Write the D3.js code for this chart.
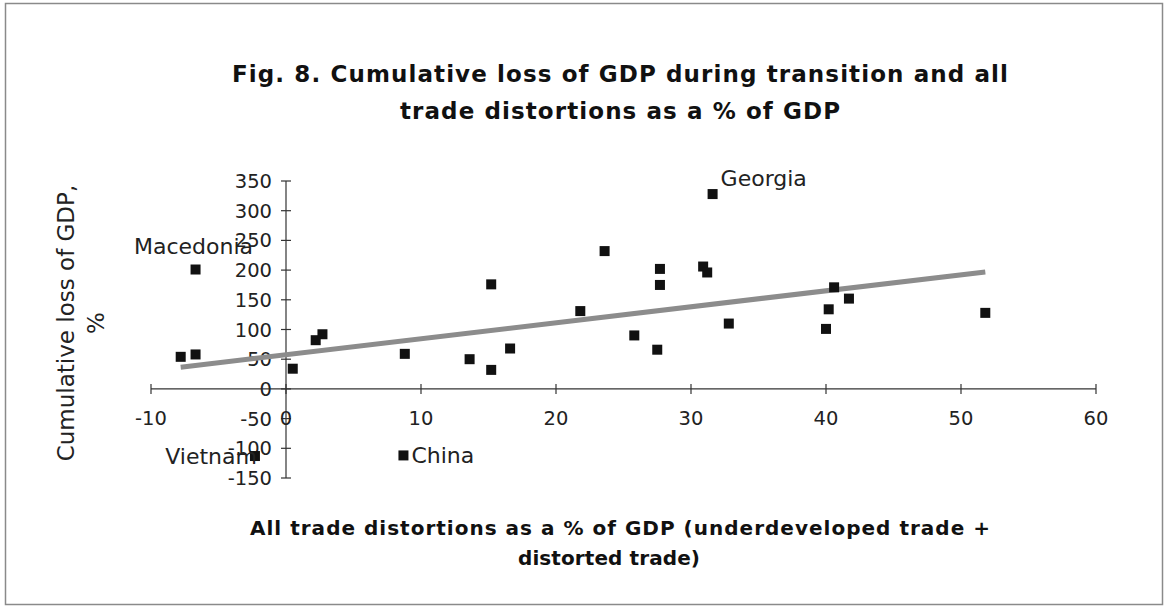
<!DOCTYPE html>
<html>
<head>
<meta charset="utf-8">
<script src="https://cdn.jsdelivr.net/npm/d3@7"></script>
<style>
  body { margin: 0; background: #fff; }
  .tick-label { font-family: "DejaVu Sans", sans-serif; font-size: 19.5px; fill: #222; }
  .point-label { font-family: "DejaVu Sans", sans-serif; font-size: 22px; fill: #222; }
  .chart-title { font-family: "DejaVu Sans", sans-serif; font-size: 23px; font-weight: bold; fill: #111; }
  .axis-title { font-family: "DejaVu Sans", sans-serif; font-size: 20px; font-weight: bold; fill: #111; }
  .y-title { font-family: "DejaVu Sans", sans-serif; font-size: 23px; fill: #222; }
</style>
</head>
<body>
<div class="chart-container"></div>
<script>
// all trade distortions, % of GDP
const tradeDistortion = [-7.8, -6.7, -6.7, -2.3, 0.5, 2.2, 2.7, 8.8, 8.7, 13.6, 15.2, 15.2, 16.6, 21.8,
  23.6, 25.8, 27.5, 27.7, 27.7, 30.9, 31.2, 31.6, 32.8, 40.0, 40.2, 40.6, 41.7, 51.8];
// cumulative loss of GDP, %
const gdpLoss = [54, 58, 201, -113, 34, 82, 92, 59, -112, 50, 176, 32, 68, 131,
  232, 90, 66, 202, 175, 206, 196, 328, 110, 101, 134, 171, 152, 128];
const countries = ["", "", "Macedonia", "Vietnam", "", "", "", "", "China", "", "", "", "", "",
  "", "", "", "", "", "", "", "Georgia", "", "", "", "", "", ""];
// where excel put the data label
const labelSide = {"Macedonia": "above", "Vietnam": "left", "China": "right", "Georgia": "right"};

const xTicks = [-10, 0, 10, 20, 30, 40, 50, 60];
const yTicks = [-150, -100, -50, 0, 50, 100, 150, 200, 250, 300, 350];

const titleLines = ["Fig. 8. Cumulative loss of GDP during transition and all",
  "trade distortions as a % of GDP"];
const xTitleLines = ["All trade distortions  as a % of GDP (underdeveloped trade +",
  "distorted trade)"];
const yTitleLines = ["Cumulative loss of GDP,", "%"];

const width = 1168, height = 607;

const points = tradeDistortion.map((x, i) => ({x: x, y: gdpLoss[i], name: countries[i]}));

const svg = d3.select(".chart-container").append("svg")
    .attr("width", width)
    .attr("height", height);

svg.append("rect")
    .attr("x", 5.5).attr("y", 3.5)
    .attr("width", 1157).attr("height", 601)
    .attr("fill", "#fff")
    .attr("stroke", "#8a8a8a")
    .attr("stroke-width", 1.5);

const x = d3.scaleLinear().domain([-10, 60]).range([151, 1096]);
const y = d3.scaleLinear().domain([-150, 350]).range([478, 181]);

// axes cross at zero, excel style
const axisColor = "#333";
svg.append("line")
    .attr("x1", x(-10)).attr("x2", x(60))
    .attr("y1", y(0)).attr("y2", y(0))
    .attr("stroke", axisColor).attr("stroke-width", 1.2);
svg.append("line")
    .attr("x1", x(0)).attr("x2", x(0))
    .attr("y1", y(-150)).attr("y2", y(350))
    .attr("stroke", axisColor).attr("stroke-width", 1.2);

svg.selectAll(".xtick")
    .data(xTicks)
  .enter().append("line")
    .attr("class", "xtick")
    .attr("x1", (d) => x(d)).attr("x2", (d) => x(d))
    .attr("y1", y(0) - 5).attr("y2", y(0) + 5)
    .attr("stroke", axisColor).attr("stroke-width", 1.2);

svg.selectAll(".ytick")
    .data(yTicks)
  .enter().append("line")
    .attr("class", "ytick")
    .attr("x1", x(0) - 5).attr("x2", x(0) + 5)
    .attr("y1", (d) => y(d)).attr("y2", (d) => y(d))
    .attr("stroke", axisColor).attr("stroke-width", 1.2);

svg.selectAll(".xlab")
    .data(xTicks)
  .enter().append("text")
    .attr("class", "tick-label")
    .attr("x", (d) => x(d))
    .attr("y", y(0) + 36)
    .style("text-anchor", "middle")
    .text((d) => d);

svg.selectAll(".ylab")
    .data(yTicks)
  .enter().append("text")
    .attr("class", "tick-label")
    .attr("x", x(0) - 14)
    .attr("y", (d) => y(d) + 7)
    .style("text-anchor", "end")
    .text((d) => d);

// linear trendline over the data range
const mx = d3.mean(points, (d) => d.x);
const my = d3.mean(points, (d) => d.y);
const slope = d3.sum(points, (d) => (d.x - mx) * (d.y - my)) / d3.sum(points, (d) => (d.x - mx) * (d.x - mx));
const icpt = my - slope * mx;
const xExt = d3.extent(points, (d) => d.x);

svg.append("line")
    .attr("x1", x(xExt[0])).attr("y1", y(icpt + slope * xExt[0]))
    .attr("x2", x(xExt[1])).attr("y2", y(icpt + slope * xExt[1]))
    .attr("stroke", "#8c8c8c")
    .attr("stroke-width", 5);

const size = 10;
svg.selectAll(".dot")
    .data(points)
  .enter().append("rect")
    .attr("class", "dot")
    .attr("x", (d) => x(d.x) - size / 2)
    .attr("y", (d) => y(d.y) - size / 2)
    .attr("width", size)
    .attr("height", size)
    .attr("fill", "#111");

svg.selectAll(".point-label")
    .data(points.filter((d) => d.name))
  .enter().append("text")
    .attr("class", "point-label")
    .attr("x", (d) => {
      const side = labelSide[d.name];
      if (side === "left") return x(d.x) + 2;
      if (side === "right") return x(d.x) + 8;
      return x(d.x) - 2;
    })
    .attr("y", (d) => {
      const side = labelSide[d.name];
      if (side === "above") return y(d.y) - 16;
      if (d.name === "Georgia") return y(d.y) - 8;
      return y(d.y) + 8;
    })
    .style("text-anchor", (d) => {
      const side = labelSide[d.name];
      if (side === "left") return "end";
      if (side === "right") return "start";
      return "middle";
    })
    .text((d) => d.name);

// titles, stretched to the widths of the original
const titleWidths = [776, 440];
svg.selectAll(".chart-title")
    .data(titleLines)
  .enter().append("text")
    .attr("class", "chart-title")
    .attr("x", 620)
    .attr("y", (d, i) => 82 + i * 37)
    .attr("textLength", (d, i) => titleWidths[i])
    .attr("lengthAdjust", "spacing")
    .style("text-anchor", "middle")
    .text((d) => d);

const xTitleWidths = [740, 182];
svg.selectAll(".axis-title")
    .data(xTitleLines)
  .enter().append("text")
    .attr("class", "axis-title")
    .attr("x", (d, i) => i ? 609 : 620)
    .attr("y", (d, i) => 535 + i * 30)
    .attr("textLength", (d, i) => xTitleWidths[i])
    .attr("lengthAdjust", "spacing")
    .style("text-anchor", "middle")
    .text((d) => d);

svg.selectAll(".y-title")
    .data(yTitleLines)
  .enter().append("text")
    .attr("class", "y-title")
    .attr("transform", (d, i) => "translate(" + (74 + i * 30) + ",323) rotate(-90)")
    .style("text-anchor", "middle")
    .text((d) => d);
</script>
</body>
</html>
